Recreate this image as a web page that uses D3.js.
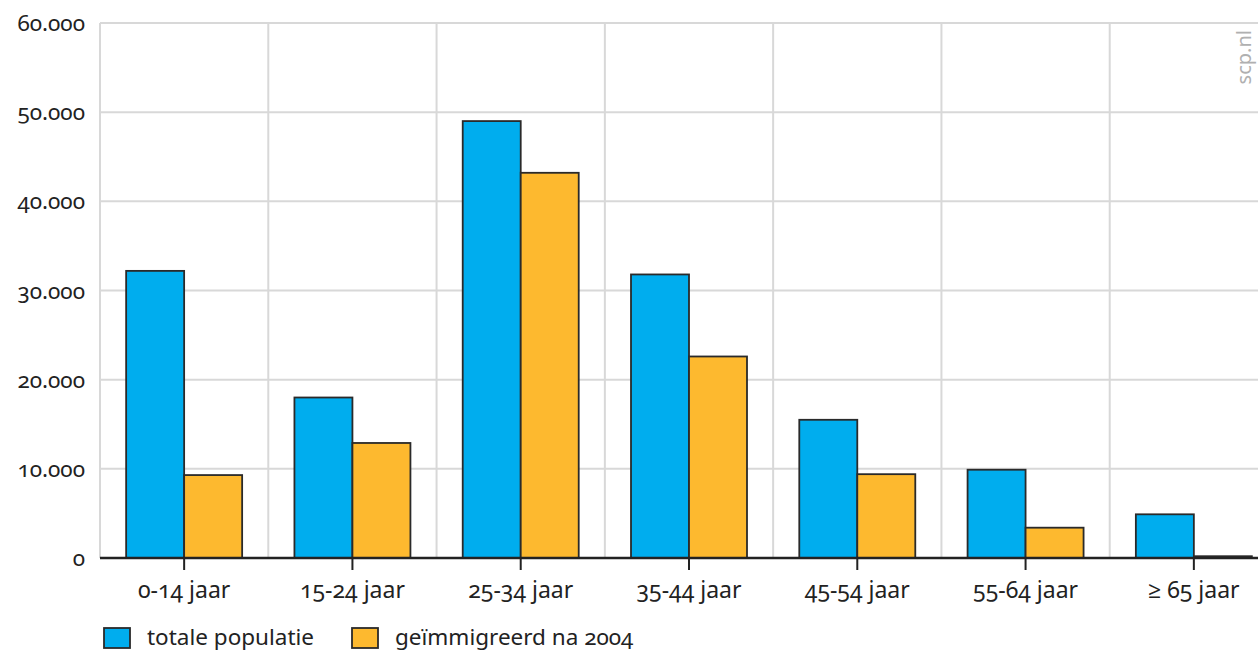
<!DOCTYPE html>
<html><head><meta charset="utf-8">
<script src="https://cdn.jsdelivr.net/npm/d3@7"></script>
<style>
body{margin:0;background:#fff;}
svg text{font-family:"Noto Sans","Open Sans",sans-serif;font-feature-settings:"onum" 1;font-variant-numeric:oldstyle-nums;fill:#222;}
</style></head>
<body><svg id="c" width="1258" height="652"></svg>
<script>
const categories = ["0-14 jaar","15-24 jaar","25-34 jaar","35-44 jaar","45-54 jaar","55-64 jaar","≥ 65 jaar"];
const seriesNames = ["totale populatie","geïmmigreerd na 2004"];
const totaal = [32200, 18000, 49000, 31800, 15500, 9900, 4900];
const geimmigreerd = [9300, 12900, 43200, 22600, 9400, 3400, 200];
const yTicks = [0, 10000, 20000, 30000, 40000, 50000, 60000];
const colors = ["#00adee", "#fdb92f"];

const svg = d3.select("#c");
const m = {left:100, top:23, bottom:558, right:1278};
const x = d3.scaleBand().domain(categories).range([m.left, m.right]).padding(0);
const y = d3.scaleLinear().domain([0, 60000]).range([m.bottom, m.top]);
const barW = 58;
const xs = d3.scaleBand().domain([0,1]).range([0, barW*2]).padding(0);
const fmt = d => d3.format(",")(d).replace(/,/g, ".");

// grid
const g = svg.append("g");
g.selectAll(".hg").data(yTicks.filter(d=>d>0)).join("line")
  .attr("x1", m.left).attr("x2", m.right).attr("y1", d=>y(d)).attr("y2", d=>y(d))
  .attr("stroke", "#d8d8d8").attr("stroke-width", 2);
g.selectAll(".vg").data(categories).join("line")
  .attr("x1", d=>x(d)).attr("x2", d=>x(d)).attr("y1", m.top).attr("y2", m.bottom)
  .attr("stroke", "#d8d8d8").attr("stroke-width", 2);

// y labels
svg.append("g").selectAll("text").data(yTicks).join("text")
  .attr("x", 85).attr("y", d=>y(d)+8).attr("text-anchor","end")
  .attr("font-size", 22.5).text(fmt);

// bars
const data = categories.map((c,i)=>({c, v:[totaal[i], geimmigreerd[i]]}));
const grp = svg.append("g").selectAll("g").data(data).join("g")
  .attr("transform", d=>`translate(${x(d.c)+x.bandwidth()/2-barW},0)`);
grp.selectAll("rect").data(d=>d.v).join("rect")
  .attr("x", (d,i)=>xs(i)).attr("width", xs.bandwidth())
  .attr("y", d=>y(d)).attr("height", d=>y(0)-y(d))
  .attr("fill", (d,i)=>colors[i]).attr("stroke", "#2a2a2a").attr("stroke-width", 1.8);

// x axis
svg.append("line").attr("x1", m.left).attr("x2", m.right).attr("y1", y(0)).attr("y2", y(0))
  .attr("stroke", "#222").attr("stroke-width", 2.5);
svg.append("g").selectAll("line").data(categories).join("line")
  .attr("x1", d=>x(d)+x.bandwidth()/2).attr("x2", d=>x(d)+x.bandwidth()/2)
  .attr("y1", y(0)).attr("y2", y(0)+12).attr("stroke", "#222").attr("stroke-width", 2);
svg.append("g").selectAll("text").data(categories).join("text")
  .attr("x", d=>x(d)+x.bandwidth()/2).attr("y", 598).attr("text-anchor","middle")
  .attr("font-size", 23).text(d=>d);

// legend
const legX = [104, 352];
const lg = svg.append("g").selectAll("g").data(seriesNames).join("g")
  .attr("transform", (d,i)=>`translate(${legX[i]},628)`);
lg.append("rect").attr("width", 26).attr("height", 20).attr("fill", (d,i)=>colors[i])
  .attr("stroke", "#2a2a2a").attr("stroke-width", 1.8);
lg.append("text").attr("x", 43).attr("y", 17).attr("font-size", 22.5).text(d=>d);

// watermark
svg.append("text").attr("transform", "translate(1251,30) rotate(-90)")
  .attr("text-anchor","end").attr("font-size", 20).style("fill","#b0b0b0").text("scp.nl");
</script></body></html>
